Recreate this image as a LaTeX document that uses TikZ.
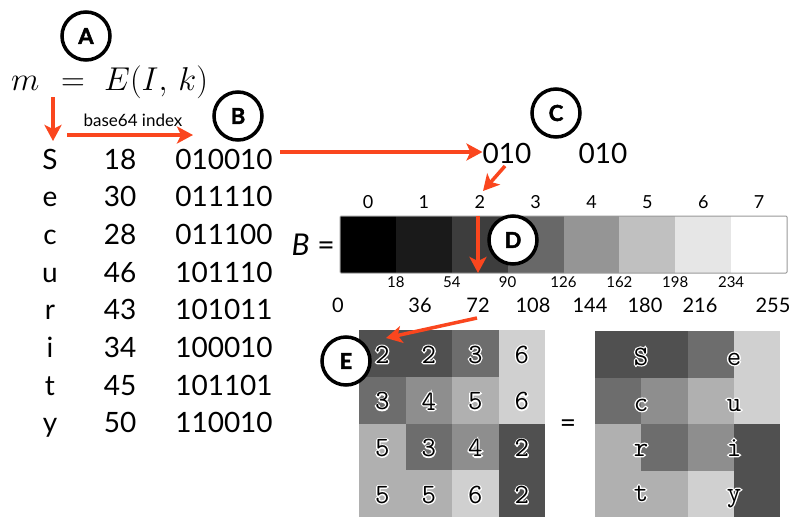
\documentclass[tikz,border=0pt]{standalone}
\usepackage{fix-cm}
\usepackage{fontspec}
\setmainfont{Lato}
\newfontfamily\halott[Extension=.otf, FakeBold=9]{lmmono10-regular}
\newfontfamily\circfont[FakeBold=2]{Lato}
\newcommand{\halotxt}[1]{\mbox{\makebox[0pt]{\textcolor{white}{\halott #1}}\makebox[0pt]{#1}}}
\usetikzlibrary{arrows.meta}
\definecolor{arr}{RGB}{250,70,30}
\definecolor{g0}{HTML}{000000}
\definecolor{g1}{HTML}{1A1A1A}
\definecolor{g2}{HTML}{3D3D3D}
\definecolor{g3}{HTML}{686868}
\definecolor{g4}{HTML}{959595}
\definecolor{g5}{HTML}{C0C0C0}
\definecolor{g6}{HTML}{E6E6E6}
\definecolor{g7}{HTML}{FFFFFF}
\definecolor{v2}{HTML}{505050}
\definecolor{v3}{HTML}{6D6D6D}
\definecolor{v4}{HTML}{8E8E8E}
\definecolor{v5}{HTML}{B0B0B0}
\definecolor{v6}{HTML}{D0D0D0}
\begin{document}
\begin{tikzpicture}[x=1pt,y=-1pt,
  redarrow/.style={draw=arr, line width=3.5pt, -{Stealth[length=16pt,width=17pt,inset=4pt]}},
  lbl/.style={draw, circle, line width=3.5pt, fill=white, minimum size=48pt, inner sep=0pt,
              font=\circfont\bfseries\fontsize{22}{22}\selectfont},
  coltxt/.style={inner sep=0pt, font=\fontsize{28}{28}\selectfont},
  lab18/.style={inner sep=0pt, font=\fontsize{18}{18}\selectfont},
  lab20/.style={inner sep=0pt, font=\fontsize{20}{20}\selectfont},
  lab15/.style={inner sep=0pt, font=\fontsize{15}{15}\selectfont},
  griddig/.style={inner sep=0pt, font=\ttfamily\fontsize{28}{28}\selectfont},
  gridlet/.style={inner sep=0pt, font=\ttfamily\fontsize{28}{28}\selectfont},
  mathtxt/.style={inner sep=0pt, font=\fontsize{33}{33}\selectfont}
]
\fill[white] (0,0) rectangle (798,517);
\useasboundingbox (0,0) rectangle (798,517);

% equation
\node[mathtxt, anchor=base west] (eqm) at (11,90) {$m$};
\node[mathtxt, anchor=base] (eqeq) at (73,90) {$=$};
\node[mathtxt, anchor=base west] (eqe) at (104,90) {$E(I,\,k)$};

% columns
\foreach \ch/\num/\bin [count=\i from 0] in
  {S/18/010010, e/30/011110, c/28/011100, u/46/101110, r/43/101011, i/34/100010, t/45/101101, y/50/110010}{
  \node[coltxt, anchor=base] (let\i) at (50, 169+37.7*\i) {\ch};
  \node[coltxt, anchor=base] (num\i) at (120, 169+37.7*\i) {\num};
  \node[coltxt, anchor=base] (bin\i) at (224, 169+37.7*\i) {\bin};
}

% A arrow and base64 arrow
\coordinate (a0) at (53,97);
\draw[redarrow] (a0) -- (53,141);
\coordinate (b0) at (67,135);
\coordinate (b1) at (193,135);
\draw[redarrow] (b0) -- (b1);
\node[lab18, anchor=base, font=\fontsize{17}{17}\selectfont] (b64) at (133,126) {base64 index};

% C part
\node[coltxt, anchor=base] (c1) at (507,163) {010};
\node[coltxt, anchor=base] (c2) at (603,163) {010};
\coordinate (c0) at (280,152);
\draw[redarrow] (c0) -- (c0 -| c1.west);

% bar
\foreach \g [count=\i from 0] in {g0,g1,g2,g3,g4,g5,g6,g7}{
  \fill[\g] (340+55.875*\i,216) rectangle ++(55.875,57);
  \node[lab18, anchor=base] (top\i) at (368+55.875*\i,208) {\i};
}
\draw[gray!80, line width=1pt, rounded corners=1pt] (340,216) rectangle (787,273);
\node[coltxt, anchor=base east, font=\fontsize{30}{30}\selectfont] (Beq) at (335,255) {\textit{B} =};

\foreach \v [count=\i from 1] in {18,54,90,126,162,198,234}{
  \node[lab15, anchor=base] (sm\i) at (340+55.875*\i,287) {\v};
}
\foreach \x/\v [count=\i from 0] in {338/0,420/36,478/72,533/108,590/144,645/180,700/216,773/255}{
  \node[lab20, anchor=base] (bt\i) at (\x,312) {\v};
}

\coordinate (cc0) at (505,166);
\coordinate (cc1) at (483,191);
\draw[redarrow] (cc0) -- (cc1);
\coordinate (d0) at (478,216);
\coordinate (d1) at (478,273);
\draw[redarrow] (d0) -- (d1);

% left grid
\foreach \row [count=\r from 0] in {{2,2,3,6},{3,4,5,6},{5,3,4,2},{5,5,6,2}}{
  \foreach \v [count=\c from 0] in \row {
    \fill[v\v] (359+46.5*\c, 330+46.75*\r) rectangle ++(46.5,46.75);
    \node[griddig] (n\r\c) at (359+46.5*\c+23.25, 330+46.75*\r+24.5) {\halotxt{\v}};
  }
}
% right grid
\foreach \row [count=\r from 0] in {{2,2,3,6},{3,4,5,6},{5,3,4,2},{5,5,6,2}}{
  \foreach \v [count=\c from 0] in \row {
    \fill[v\v] (595+46.25*\c, 331+46.5*\r) rectangle ++(46.25,46.5);
  }
}
\foreach \a/\b/\yy [count=\i from 0] in {S/e/365, c/u/411, r/i/456, t/y/501}{
  \node[gridlet, anchor=base] (la\i) at (641,\yy) {\halotxt{\a}};
  \node[gridlet, anchor=base] (lb\i) at (734,\yy) {\halotxt{\b}};
}
\node[coltxt] (eqsign) at (568,426) {=};

\coordinate (e0) at (477,318);
\coordinate (e1) at (386,338);
\draw[redarrow] (e0) -- (e1);

% circles
\node[lbl] (A) at (86,36) {A};
\node[lbl] (B) at (238,116) {B};
\node[lbl] (C) at (556,113) {C};
\node[lbl] (D) at (513,240) {D};
\node[lbl] (E) at (346,361) {E};
\end{tikzpicture}
\end{document}
